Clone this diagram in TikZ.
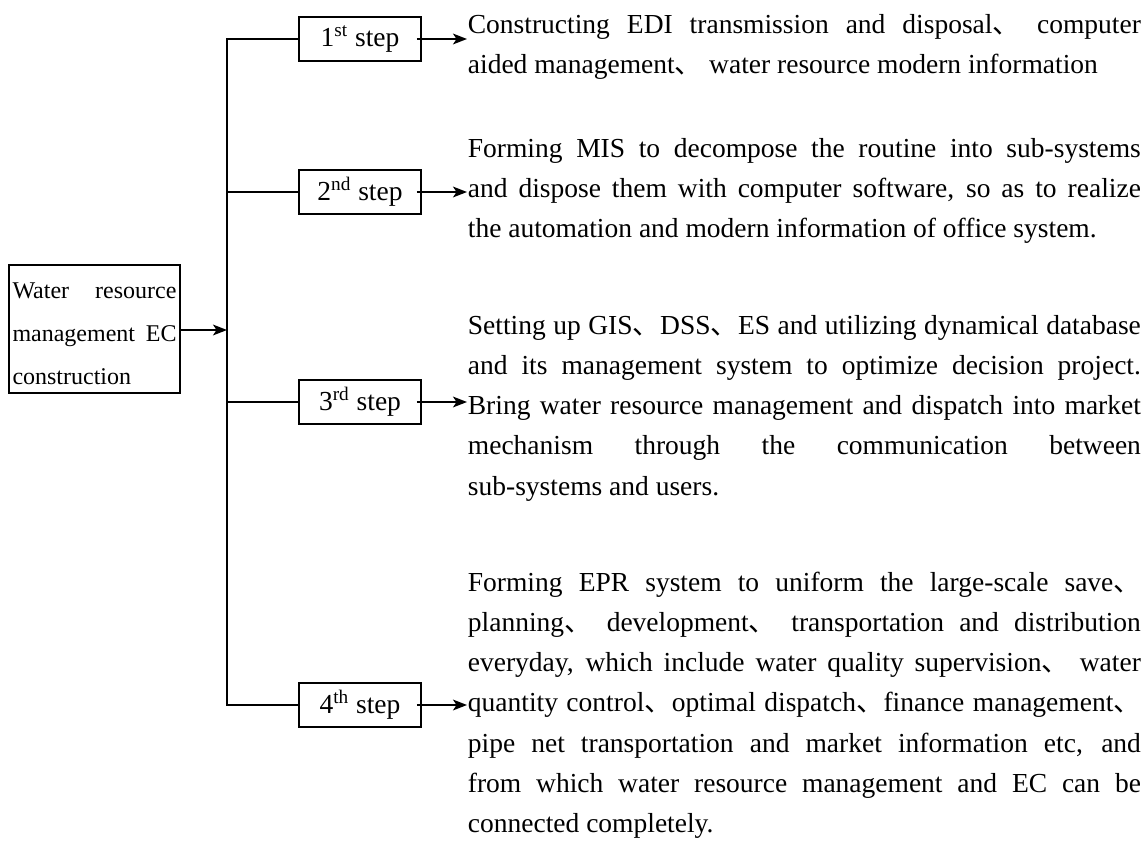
\documentclass[tikz,border=0pt]{standalone}
\usepackage{fontspec}
\setmainfont{Liberation Serif}
\newfontfamily\cjk{Noto Sans CJK SC}
\usepackage{tikz}
\usetikzlibrary{arrows.meta}
\newcommand{\dn}{{\cjk 、}}
\hyphenpenalty=10000
\exhyphenpenalty=10000
\tolerance=9999

\begin{document}
\begin{tikzpicture}[x=0.5pt,y=-0.5pt,->,>={Stealth[length=7pt,width=5.4pt,inset=1.8pt]},line width=0.9pt,
    mainbox/.style={draw,text width=82pt,text height=13pt,inner xsep=1.75pt,inner ysep=0pt,minimum height=64pt,align=justify,font=\fontsize{12}{21.5}\selectfont},
    stepbox/.style={draw,minimum width=61pt,minimum height=22pt,inner sep=0pt,font=\fontsize{13.75}{16}\selectfont},
    textblock/.style={anchor=base west,text width=336.5pt,inner sep=0pt,align=justify,font=\fontsize{13.75}{20.15}\selectfont}]

  \useasboundingbox (0,0) rectangle (1147,846);

  \node[mainbox]  (main) at (94.5,329) {Water resource\linebreak management EC\linebreak construction};
  \coordinate     (hub) at (227,330);

  \node[stepbox]  (s1) at (360,39)  {1\textsuperscript{st} step};
  \node[stepbox]  (s2) at (360,192) {2\textsuperscript{nd} step};
  \node[stepbox]  (s3) at (360,402) {3\textsuperscript{rd} step};
  \node[stepbox]  (s4) at (360,705) {4\textsuperscript{th} step};

  \node[textblock] (t1) at (467,33) {Constructing EDI transmission and disposal\dn{} computer\linebreak
    aided management\dn{} water resource modern information};
  \node[textblock] (t2) at (467,157) {Forming MIS to decompose the routine into sub-systems\linebreak
    and dispose them with computer software, so as to realize\linebreak
    the automation and modern information of office system.};
  \node[textblock] (t3) at (467,334) {Setting up GIS\dn DSS\dn ES and utilizing dynamical database\linebreak
    and its management system to optimize decision project.\linebreak
    Bring water resource management and dispatch into market\linebreak
    mechanism through the communication between\linebreak
    sub-systems and users.};
  \node[textblock] (t4) at (467,591) {Forming EPR system to uniform the large-scale save\dn\linebreak
    planning\dn{} development\dn{} transportation and distribution\linebreak
    everyday, which include water quality supervision\dn{} water\linebreak
    quantity control\dn optimal dispatch\dn finance management\dn\linebreak
    pipe net transportation and market information etc, and\linebreak
    from which water resource management and EC can be\linebreak
    connected completely.};

  % trunk and branches
  \draw[-] (s1.west) -- (s1.west -| hub) -- (s4.west -| hub) -- (s4.west);
  \draw[-] (s2.west) -- (s2.west -| hub);
  \draw[-] (s3.west) -- (s3.west -| hub);
  \draw (main.east |- hub) -- (hub);

  \foreach \i in {1,...,4}
    \draw ([xshift=-2.5pt]s\i.east) -- (s\i.east -| t\i.west);
\end{tikzpicture}
\end{document}
